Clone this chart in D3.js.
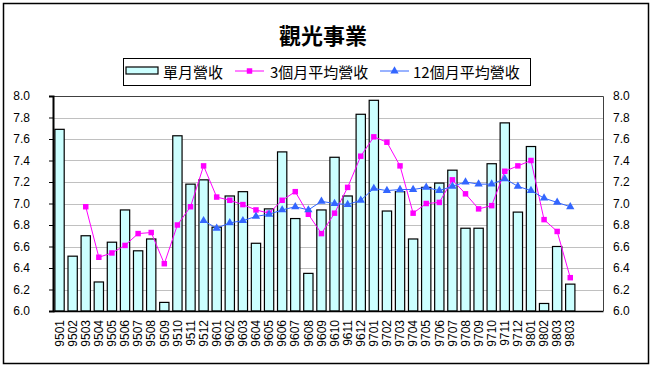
<!DOCTYPE html>
<html>
<head>
<meta charset="utf-8">
<script src="https://cdn.jsdelivr.net/npm/d3@7/dist/d3.min.js"></script>
<style>
  body { margin: 0; background: #fff; }
  svg { display: block; }
</style>
</head>
<body>
<svg id="chart" width="653" height="367"></svg>
<script>
// month labels (last one is repeated in the source chart)
const labels = [
  "9501","9502","9503","9504","9505","9506","9507","9508","9509","9510","9511","9512",
  "9601","9602","9603","9604","9605","9606","9607","9608","9609","9610","9611","9612",
  "9701","9702","9703","9704","9705","9706","9707","9708","9709","9710","9711","9712",
  "9801","9802","9803","9803"
];

// 單月營收
const monthly = [
  7.69, 6.51, 6.70, 6.27, 6.64, 6.94, 6.56, 6.67, 6.08, 7.63, 7.18, 7.22,
  6.78, 7.07, 7.11, 6.63, 6.95, 7.48, 6.86, 6.35, 6.94, 7.43, 7.07, 7.83,
  7.96, 6.93, 7.11, 6.67, 7.15, 7.19, 7.31, 6.77, 6.77, 7.37, 7.75, 6.92,
  7.53, 6.07, 6.60, 6.25
];

// 3個月平均營收
const avg3 = [
  null, null, 6.97, 6.50, 6.54, 6.61, 6.72, 6.73, 6.44, 6.80, 6.97, 7.35,
  7.06, 7.03, 6.99, 6.94, 6.91, 7.03, 7.11, 6.90, 6.72, 6.91, 7.15, 7.44,
  7.62, 7.57, 7.35, 6.91, 7.00, 7.01, 7.22, 7.09, 6.95, 6.98, 7.30, 7.35,
  7.40, 6.85, 6.74, 6.31
];

// 12個月平均營收
const avg12 = [
  null, null, null, null, null, null, null, null, null, null, null, 6.84,
  6.77, 6.82, 6.84, 6.88, 6.90, 6.94, 6.97, 6.94, 7.02, 7.00, 6.99, 7.03,
  7.14, 7.12, 7.13, 7.13, 7.15, 7.12, 7.16, 7.20, 7.18, 7.18, 7.23, 7.16,
  7.12, 7.05, 7.01, 6.97
];

const yTicks = [6.0, 6.2, 6.4, 6.6, 6.8, 7.0, 7.2, 7.4, 7.6, 7.8, 8.0];
const slots = 42; // axis has two empty categories at the end

const svg = d3.select("#chart");
const pLeft = 53, pRight = 603, pTop = 96, pBottom = 311;

// outer frame
svg.append("rect")
  .attr("x", 3.5).attr("y", 3.5).attr("width", 645).attr("height", 360)
  .attr("fill", "#fff").attr("stroke", "#000").attr("stroke-width", 1.5);

const x = d3.scaleBand().domain(d3.range(slots)).range([pLeft, pRight]).padding(0);
const y = d3.scaleLinear().domain([6.0, 8.0]).range([pBottom, pTop]);

// gridlines
svg.append("g")
  .selectAll("line")
  .data(yTicks)
  .join("line")
  .attr("x1", pLeft).attr("x2", pRight)
  .attr("y1", d => Math.round(y(d)) + 0.5).attr("y2", d => Math.round(y(d)) + 0.5)
  .attr("stroke", "#c0c0c0").attr("stroke-width", 1);

// plot border top/right
svg.append("path")
  .attr("d", `M${pLeft},${pTop + 0.5}H${pRight + 0.5}V${pBottom}`)
  .attr("fill", "none").attr("stroke", "#404040").attr("stroke-width", 1);

// bars
const bw = x.bandwidth() * 0.71;
svg.append("g")
  .selectAll("rect")
  .data(monthly)
  .join("rect")
  .attr("x", (d, i) => x(i) + (x.bandwidth() - bw) / 2)
  .attr("y", d => y(d))
  .attr("width", bw)
  .attr("height", d => y(6.0) - y(d))
  .attr("fill", "#ccffff")
  .attr("stroke", "#000")
  .attr("stroke-width", 1.2);

const cx = i => x(i) + x.bandwidth() / 2;

// 3 month line
const line = d3.line()
  .defined(d => d != null)
  .x((d, i) => cx(i))
  .y(d => y(d));

svg.append("path")
  .datum(avg3)
  .attr("d", line)
  .attr("fill", "none").attr("stroke", "#ff00ff").attr("stroke-width", 1);

svg.append("g")
  .selectAll("path")
  .data(avg3.map((d, i) => ({ v: d, i: i })).filter(d => d.v != null))
  .join("path")
  .attr("d", d3.symbol(d3.symbolSquare, 30))
  .attr("transform", d => `translate(${cx(d.i)},${y(d.v)})`)
  .attr("fill", "#ff00ff");

// 12 month line
svg.append("path")
  .datum(avg12)
  .attr("d", line)
  .attr("fill", "none").attr("stroke", "#3366ff").attr("stroke-width", 1);

svg.append("g")
  .selectAll("path")
  .data(avg12.map((d, i) => ({ v: d, i: i })).filter(d => d.v != null))
  .join("path")
  .attr("d", d3.symbol(d3.symbolTriangle, 30))
  .attr("transform", d => `translate(${cx(d.i)},${y(d.v)})`)
  .attr("fill", "#3366ff");

// left axis
const yAxisL = svg.append("g")
  .attr("transform", `translate(${pLeft},0)`)
  .call(d3.axisLeft(y).tickValues(yTicks).tickFormat(d3.format(".1f")).tickSizeOuter(0).tickSize(4).tickPadding(19));
yAxisL.select(".domain").attr("stroke", "#000").attr("stroke-width", 2);
yAxisL.selectAll("text").attr("font-family", "Liberation Sans, Arial, sans-serif").attr("font-size", 12).attr("fill", "#000");

// right axis (labels only)
const yAxisR = svg.append("g")
  .attr("transform", `translate(${pRight},0)`)
  .call(d3.axisRight(y).tickValues(yTicks).tickFormat(d3.format(".1f")).tickSize(0).tickPadding(10));
yAxisR.select(".domain").remove();
yAxisR.selectAll("text").attr("font-family", "Liberation Sans, Arial, sans-serif").attr("font-size", 12).attr("fill", "#000");

// bottom axis
const xAxis = svg.append("g")
  .attr("transform", `translate(0,${pBottom})`)
  .call(d3.axisBottom(x).tickSize(0).tickFormat(i => labels[i] || ""));
xAxis.select(".domain").attr("stroke", "#000").attr("stroke-width", 1.5);
xAxis.selectAll("text")
  .attr("font-family", "Liberation Sans, Arial, sans-serif")
  .attr("font-size", 12)
  .attr("fill", "#000")
  .attr("text-anchor", "end")
  .attr("dy", "0.35em")
  .attr("transform", "translate(0,9) rotate(-90)")
  .attr("x", 0).attr("y", 0);

// title
svg.append("text")
  .attr("x", 323).attr("y", 44)
  .attr("text-anchor", "middle")
  .attr("font-family", "Noto Sans CJK TC, sans-serif")
  .attr("font-weight", "bold")
  .attr("font-size", 22)
  .text("觀光事業");

// legend
const lg = svg.append("g").attr("font-family", "Noto Sans CJK TC, sans-serif").attr("font-size", 15);
lg.append("rect").attr("x", 123.5).attr("y", 58.5).attr("width", 407).attr("height", 27)
  .attr("fill", "#fff").attr("stroke", "#000").attr("stroke-width", 1);
lg.append("rect").attr("x", 126).attr("y", 67).attr("width", 32).attr("height", 7)
  .attr("fill", "#ccffff").attr("stroke", "#000").attr("stroke-width", 1.2);
lg.append("text").attr("x", 163).attr("y", 78).text("單月營收");

lg.append("line").attr("x1", 235).attr("x2", 264).attr("y1", 71).attr("y2", 71)
  .attr("stroke", "#ff00ff").attr("stroke-width", 1);
lg.append("path").attr("d", d3.symbol(d3.symbolSquare, 30)).attr("transform", "translate(249.5,71)").attr("fill", "#ff00ff");
lg.append("text").attr("x", 270).attr("y", 78).text("3個月平均營收");

lg.append("line").attr("x1", 380).attr("x2", 409).attr("y1", 71).attr("y2", 71)
  .attr("stroke", "#3366ff").attr("stroke-width", 1);
lg.append("path").attr("d", d3.symbol(d3.symbolTriangle, 30)).attr("transform", "translate(394.5,71)").attr("fill", "#3366ff");
lg.append("text").attr("x", 413).attr("y", 78).text("12個月平均營收");
</script>
</body>
</html>
